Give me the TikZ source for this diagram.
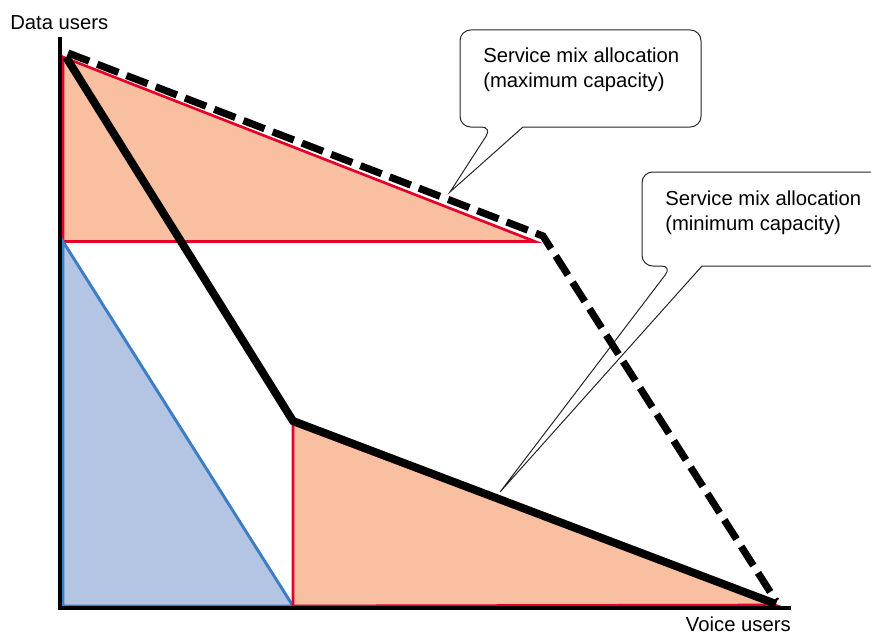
\documentclass[tikz,border=0pt]{standalone}
\usepackage{fontspec}
\setmainfont{Liberation Sans}
\definecolor{salmon}{RGB}{248,191,160}
\definecolor{edgered}{RGB}{228,0,40}
\definecolor{bluefill}{RGB}{180,197,228}
\definecolor{blueedge}{RGB}{60,125,196}
\begin{document}
\begin{tikzpicture}[x=0.75pt,y=-0.75pt,
  lbl/.style={font=\fontsize{15.2}{18.75}\selectfont, inner sep=0pt, anchor=base west},
  region/.style={fill=salmon, draw=edgered, line width=2pt, line join=miter},
  bluearea/.style={fill=bluefill, draw=blueedge, line width=2.2pt, line join=miter},
  axisline/.style={line width=3pt, draw=black},
  mincap/.style={line width=6pt, draw=black, line join=miter},
  maxcap/.style={line width=5.4pt, draw=black, dash pattern=on 17pt off 6.5pt, line join=miter},
  callout/.style={draw=black!85, line width=0.75pt, fill=white}]
\useasboundingbox (0,0) rectangle (871,635);

% corner points of the allocation regions
\coordinate (top) at (63,57);
\coordinate (mid) at (63,241.5);
\coordinate (org) at (63,606);
\coordinate (uc)  at (535,241.5);
\coordinate (lt)  at (293,424);
\coordinate (lb)  at (293,606);
\coordinate (rt)  at (775,605);

% callout boxes with their pointers
\coordinate (tip1) at (450,192);
\coordinate (tip2) at (500,492);
\draw[callout] (523,127) [rounded corners=8] -- (701,127) -- (701,30) -- (460,30)
  -- (460,127) -- (492,127) [sharp corners] -- (tip1) -- cycle;
\begin{scope}
  \clip (0,0) rectangle (871,635);
  \draw[callout] (702,266) [rounded corners=8] -- (890,266) -- (890,172) -- (642,172)
    -- (642,266) -- (672,266) [sharp corners] -- (tip2) -- cycle;
\end{scope}

% allocation regions
\draw[region] (top) -- (uc) -- (mid) -- cycle;
\draw[bluearea] (mid) -- (lb) -- (org) -- cycle;
\draw[region] (lt) -- (rt) -- (lb) -- cycle;

% axes
\coordinate (yend) at (59.5,37);
\coordinate (corner) at (59.5,607.5);
\coordinate (xend) at (791,607.5);
\draw[axisline] (yend) -- (corner) -- (xend);

% capacity boundaries
\coordinate (s0) at (66,57);
\coordinate (s1) at (293,421);
\coordinate (s2) at (776,604);
\draw[mincap] (s0) -- (s1) -- (s2);
\coordinate (d0) at (68,53);
\coordinate (d1) at (543,236);
\coordinate (d2) at (776,601);
\draw[maxcap] (d0) -- (d1) -- (d2);

% labels
\node[lbl] (ylab) at (10,30) {Data users};
\node[lbl, anchor=base east] (xlab) at (791,631) {Voice users};
\node[lbl] (c1a) at (483,63) {Service mix allocation};
\node[lbl] (c1b) at (483,88) {(maximum capacity)};
\node[lbl] (c2a) at (665,205) {Service mix allocation};
\node[lbl] (c2b) at (665,230) {(minimum capacity)};
\end{tikzpicture}
\end{document}
